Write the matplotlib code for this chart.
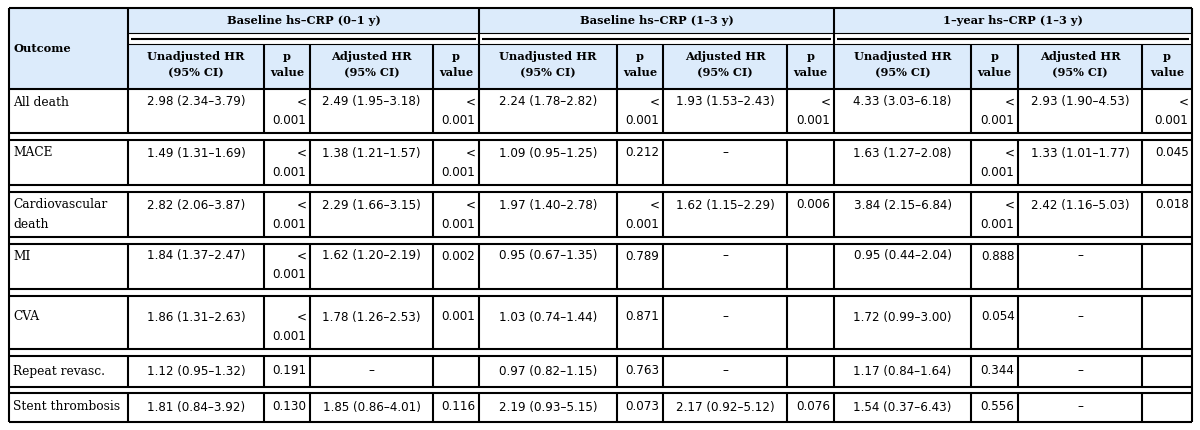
import matplotlib

matplotlib.use("Agg")
import matplotlib.pyplot as plt
from matplotlib.patches import Rectangle

OUTCOMES = [
    "All death",
    "MACE",
    "Cardiovascular\ndeath",
    "MI",
    "CVA",
    "Repeat revasc.",
    "Stent thrombosis",
]
GROUPS = ["Baseline hs–CRP (0–1 y)", "Baseline hs–CRP (1–3 y)", "1–year hs–CRP (1–3 y)"]
SUB_HEADERS = ["Unadjusted HR\n(95% CI)", "p\nvalue", "Adjusted HR\n(95% CI)", "p\nvalue"]

# hazard ratios as (estimate, lower, upper); None where not reported
BASE01_UNADJ_HR = [(2.98, 2.34, 3.79), (1.49, 1.31, 1.69), (2.82, 2.06, 3.87), (1.84, 1.37, 2.47),
                   (1.86, 1.31, 2.63), (1.12, 0.95, 1.32), (1.81, 0.84, 3.92)]
BASE01_UNADJ_P = ["< 0.001", "< 0.001", "< 0.001", "< 0.001", "< 0.001", "0.191", "0.130"]
BASE01_ADJ_HR = [(2.49, 1.95, 3.18), (1.38, 1.21, 1.57), (2.29, 1.66, 3.15), (1.62, 1.20, 2.19),
                 (1.78, 1.26, 2.53), None, (1.85, 0.86, 4.01)]
BASE01_ADJ_P = ["< 0.001", "< 0.001", "< 0.001", "0.002", "0.001", "", "0.116"]

BASE13_UNADJ_HR = [(2.24, 1.78, 2.82), (1.09, 0.95, 1.25), (1.97, 1.40, 2.78), (0.95, 0.67, 1.35),
                   (1.03, 0.74, 1.44), (0.97, 0.82, 1.15), (2.19, 0.93, 5.15)]
BASE13_UNADJ_P = ["< 0.001", "0.212", "< 0.001", "0.789", "0.871", "0.763", "0.073"]
BASE13_ADJ_HR = [(1.93, 1.53, 2.43), None, (1.62, 1.15, 2.29), None, None, None, (2.17, 0.92, 5.12)]
BASE13_ADJ_P = ["< 0.001", "", "0.006", "", "", "", "0.076"]

YEAR1_UNADJ_HR = [(4.33, 3.03, 6.18), (1.63, 1.27, 2.08), (3.84, 2.15, 6.84), (0.95, 0.44, 2.04),
                  (1.72, 0.99, 3.00), (1.17, 0.84, 1.64), (1.54, 0.37, 6.43)]
YEAR1_UNADJ_P = ["< 0.001", "< 0.001", "< 0.001", "0.888", "0.054", "0.344", "0.556"]
YEAR1_ADJ_HR = [(2.93, 1.90, 4.53), (1.33, 1.01, 1.77), (2.42, 1.16, 5.03), None, None, None, None]
YEAR1_ADJ_P = ["< 0.001", "0.045", "0.018", "", "", "", ""]

# layout, in figure pixels (y grows downward)
COL_EDGES = [9, 128, 264, 310, 433, 479, 617, 663, 787, 834, 971, 1018, 1142, 1192]
TABLE_TOP = 8
GROUP_ROW_BOTTOM = 33
SUB_ROW_TOP = 44
HEADER_BOTTOM = 89
ROW_SPANS = [(89, 133), (140, 185), (192, 237), (244, 289), (296, 349), (356, 387), (393, 422)]
ROW_FIRST_LINE = [102, 153, 205, 256, 317, 371, 407]
LINE_STEP = 19

HEADER_BG = "#dcebfb"
BORDER_LW = 1.5
THIN_LW = 0.8
LABEL_FONT = dict(family="DejaVu Serif", fontsize=8.8)
NUMBER_FONT = dict(family="DejaVu Sans", fontsize=8.6)
HEADER_FONT = dict(family="DejaVu Serif", fontsize=8.2, fontweight="bold")


def _fmt_hr(hr):
    if hr is None:
        return "–"
    est, lo, hi = hr
    return f"{est:.2f} ({lo:.2f}–{hi:.2f})"


def _draw_header(ax):
    left, right = COL_EDGES[0], COL_EDGES[-1]
    ax.add_patch(Rectangle((left, TABLE_TOP), right - left, HEADER_BOTTOM - TABLE_TOP,
                           facecolor=HEADER_BG, edgecolor="none", zorder=0))
    ax.hlines(TABLE_TOP, left, right, color="black", lw=BORDER_LW)
    ax.text(left + 5, (TABLE_TOP + HEADER_BOTTOM) / 2, "Outcome", ha="left", va="center", **HEADER_FONT)

    for g, name in enumerate(GROUPS):
        x0, x1 = COL_EDGES[1 + 4 * g], COL_EDGES[5 + 4 * g]
        ax.add_patch(Rectangle((x0, GROUP_ROW_BOTTOM), x1 - x0, SUB_ROW_TOP - GROUP_ROW_BOTTOM,
                               facecolor="white", edgecolor="none", zorder=0))
        ax.hlines(GROUP_ROW_BOTTOM, x0, x1, color="black", lw=THIN_LW)
        ax.hlines((GROUP_ROW_BOTTOM + SUB_ROW_TOP) / 2, x0 + 3, x1 - 3, color="black", lw=BORDER_LW)
        ax.hlines(SUB_ROW_TOP, x0, x1, color="black", lw=THIN_LW)
        ax.text((x0 + x1) / 2, (TABLE_TOP + GROUP_ROW_BOTTOM) / 2 + 0.5, name,
                ha="center", va="center", **HEADER_FONT)
        for k, sub in enumerate(SUB_HEADERS):
            c0, c1 = COL_EDGES[1 + 4 * g + k], COL_EDGES[2 + 4 * g + k]
            for j, line in enumerate(sub.split("\n")):
                ax.text((c0 + c1) / 2, 57 + 16 * j, line, ha="center", va="center", **HEADER_FONT)
        ax.vlines(COL_EDGES[2 + 4 * g:5 + 4 * g], SUB_ROW_TOP, HEADER_BOTTOM, color="black", lw=BORDER_LW)

    ax.vlines([COL_EDGES[1], COL_EDGES[5], COL_EDGES[9]], TABLE_TOP, HEADER_BOTTOM,
              color="black", lw=BORDER_LW)


def _draw_body(ax, hr_columns, p_columns):
    left, right = COL_EDGES[0], COL_EDGES[-1]
    for i, ((top, bottom), y0) in enumerate(zip(ROW_SPANS, ROW_FIRST_LINE)):
        ax.hlines([top, bottom], left, right, color="black", lw=BORDER_LW)
        ax.vlines(COL_EDGES[1:-1], top, bottom, color="black", lw=BORDER_LW)

        for j, line in enumerate(OUTCOMES[i].split("\n")):
            ax.text(left + 4, y0 + j * LINE_STEP, line, ha="left", va="center", **LABEL_FONT)

        for c in range(len(hr_columns)):
            hx0, hx1 = COL_EDGES[1 + 2 * c], COL_EDGES[2 + 2 * c]
            ax.text((hx0 + hx1) / 2, y0, _fmt_hr(hr_columns[c][i]), ha="center", va="center", **NUMBER_FONT)
            p = p_columns[c][i]
            px = COL_EDGES[3 + 2 * c] - 3.5
            if p.startswith("<"):
                ax.text(px, y0, "<", ha="right", va="center", **NUMBER_FONT)
                ax.text(px, y0 + LINE_STEP, p[1:].strip(), ha="right", va="center", **NUMBER_FONT)
            elif p:
                ax.text(px, y0, p, ha="right", va="center", **NUMBER_FONT)

    ax.vlines([left, right], TABLE_TOP, ROW_SPANS[-1][1], color="black", lw=BORDER_LW)


def plot_table():
    fig = plt.figure(figsize=(12, 4.3), dpi=100)
    ax = fig.add_axes([0, 0, 1, 1])
    ax.set_xlim(0, 1200)
    ax.set_ylim(430, 0)
    ax.axis("off")

    hr_columns = [BASE01_UNADJ_HR, BASE01_ADJ_HR, BASE13_UNADJ_HR, BASE13_ADJ_HR, YEAR1_UNADJ_HR, YEAR1_ADJ_HR]
    p_columns = [BASE01_UNADJ_P, BASE01_ADJ_P, BASE13_UNADJ_P, BASE13_ADJ_P, YEAR1_UNADJ_P, YEAR1_ADJ_P]

    _draw_header(ax)
    _draw_body(ax, hr_columns, p_columns)
    fig.savefig("out.png", dpi=100, facecolor="white")
    return fig


if __name__ == "__main__":
    plot_table()
